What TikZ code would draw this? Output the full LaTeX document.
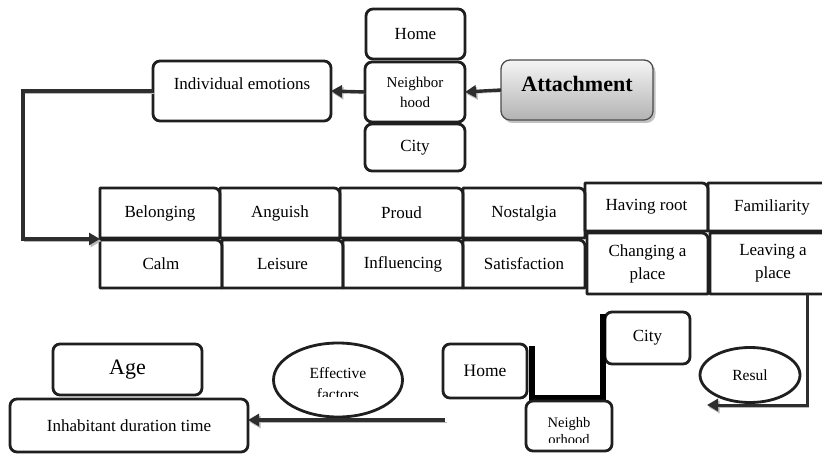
\documentclass[tikz,border=0pt]{standalone}
\usepackage{fontspec}
\setmainfont{Liberation Serif}
\usetikzlibrary{arrows.meta,shadows,calc,shapes.geometric}
\begin{document}
\begin{tikzpicture}[x=1pt,y=-1pt,
  box/.style={draw=black!88, line width=2.8pt, rounded corners=7pt, inner sep=0pt, outer sep=0pt, align=center, anchor=north west, font=\fontsize{17}{20}\selectfont},
  cell/.style={inner sep=0pt, outer sep=0pt, align=center, anchor=north west, font=\fontsize{17}{23}\selectfont},
  cellline/.style={draw=black!88, line width=2.8pt, line join=round},
  oval/.style={ellipse, draw=black!88, line width=2.8pt, inner sep=0pt, outer sep=0pt, align=center},
  arr/.style={draw=black!82, line width=3.4pt, -{Triangle[length=11pt,width=12pt]}, preaction={draw=black!28, transform canvas={xshift=1.5pt,yshift=-2pt}}},
  bar/.style={draw=black, line width=6pt},
  txt/.style={inner sep=0pt, outer sep=0pt, align=center, anchor=north},
]
\useasboundingbox[fill=white] (0,0) rectangle (822,454);

% ---------- top group ----------
\node[box, minimum width=99pt, minimum height=50pt] (homeT) at (366,9) {Home};
\node[box, minimum width=100pt, minimum height=60pt, font=\fontsize{15}{20}\selectfont] (nbT) at (365,62) {Neighbor\\hood};
\node[box, minimum width=100pt, minimum height=47pt] (cityT) at (365,124) {City};
\node[box, minimum width=178pt, minimum height=60pt] (indiv) at (153,61) {\raisebox{5pt}[12pt][4pt]{Individual emotions}};
\node[box, minimum width=152pt, minimum height=60pt, draw=black!70, line width=1.3pt, rounded corners=9pt,
      top color=black!4, bottom color=black!30,
      drop shadow={shadow xshift=2.5pt, shadow yshift=-3pt, fill=black!40, opacity=0.6},
      font=\bfseries\fontsize{22}{26}\selectfont] (att) at (501,60) {\raisebox{3pt}[15pt][5pt]{Attachment}};

% ---------- grid of cells ----------
\node[cell, minimum width=120pt, minimum height=50pt] (bel)  at (100,188) {Belonging};
\node[cell, minimum width=120pt, minimum height=50pt] (ang)  at (220,188) {Anguish};
\node[cell, minimum width=123pt, minimum height=50pt] (prd)  at (340,188) {Proud};
\node[cell, minimum width=122pt, minimum height=50pt] (nos)  at (463,188) {Nostalgia};
\node[cell, minimum width=123pt, minimum height=48pt] (root) at (585,183) {Having root};
\node[cell, minimum width=128pt, minimum height=48pt] (fam)  at (708,183) {Familiarity};
\node[cell, minimum width=122pt, minimum height=48pt] (calm) at (100,240) {Calm};
\node[cell, minimum width=121pt, minimum height=48pt] (leis) at (222,240) {Leisure};
\node[cell, minimum width=120pt, minimum height=48pt] (infl) at (343,240) {Influencing};
\node[cell, minimum width=122pt, minimum height=48pt] (sat)  at (463,240) {Satisfaction};
\node[cell, minimum width=121pt, minimum height=61pt] (chg)  at (587,233) {Changing a\\place};
\node[cell, minimum width=126pt, minimum height=61pt] (leave) at (710,233) {Leaving a\\place};
\foreach \n in {bel,ang,prd,nos,root,fam,calm,leis,infl,sat,chg,leave}{
  \draw[cellline] (\n.south west) -- (\n.north west) -- ([xshift=-6pt]\n.north east)
     to[out=0,in=90] ([yshift=-6pt]\n.north east) -- (\n.south east) -- cycle;
}

% ---------- bottom group ----------
\node[oval, minimum width=100pt, minimum height=55pt, font=\fontsize{15.5}{19}\selectfont] (resul) at (750,375) {Resul};
\node[box, minimum width=85pt, minimum height=52pt] (cityB) at (605,312) {City};
\node[box, minimum width=84pt, minimum height=54pt, font=\fontsize{17.5}{20}\selectfont] (homeB) at (443,344) {Home};
\coordinate (b1) at (532,346);
\coordinate (b2) at (603,314);
\draw[bar] (b1) |- (b2 |- 0,398) -- (b2);
\node[box, minimum width=86pt, minimum height=50pt] (nbB) at (526,401) {};
\begin{scope}
  \clip (527,402) rectangle (611,442);
  \node[txt, font=\fontsize{14.5}{17}\selectfont] (nbBtext) at (569,417) {Neighb\\orhood};
\end{scope}
\node[oval, minimum width=129pt, minimum height=74pt] (eff) at (338,380) {};
\begin{scope}
  \clip (270,340) rectangle (410,396.5);
  \node[txt, font=\fontsize{15.5}{21}\selectfont] (efftext) at (338,368) {Effective\\factors};
\end{scope}
\node[box, minimum width=149pt, minimum height=51pt, font=\fontsize{22}{26}\selectfont] (age) at (53,344) {Age};
\node[box, minimum width=238pt, minimum height=53pt] (inh) at (10,399) {Inhabitant duration time};

% ---------- connectors ----------
\coordinate (gridin) at (100,239);
\coordinate (lfoot) at (807,294);
\coordinate (rend) at (707,405);
\coordinate (bstart) at (445,420);
\draw[arr] (att.west) -- (nbT.east);
\draw[arr] (nbT.west) -- (indiv.east);
\draw[arr] (indiv.west) -- ++(-130,0) |- (gridin);
\draw[arr, line width=3pt] (lfoot) |- (rend);
\draw[arr] (bstart) -- (bstart -| inh.east);
\end{tikzpicture}
\end{document}
